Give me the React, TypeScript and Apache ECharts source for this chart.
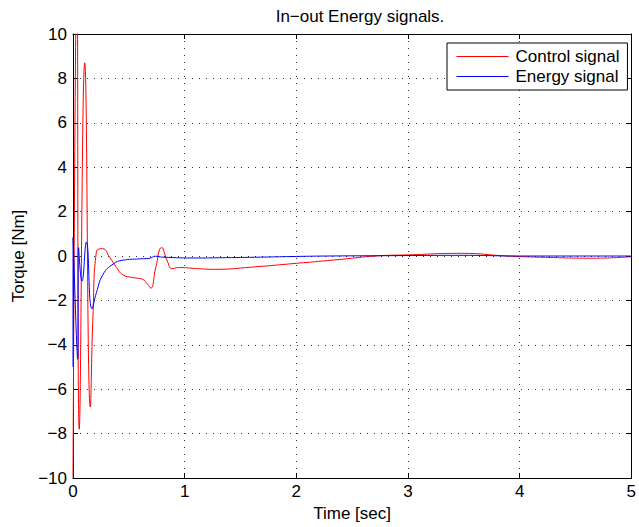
import React, { useEffect, useRef } from "react";
import * as echarts from "echarts";

const controlTime = [0, 0.035, 0.056, 0.105, 0.155, 0.18, 0.21, 0.265, 0.33, 0.39, 0.447, 0.535, 0.623, 0.667, 0.697, 0.741, 0.794, 0.844, 0.888, 0.947, 1.117, 1.27, 1.6, 2.0, 2.4, 2.71, 3.0, 3.48, 3.89, 4.3, 4.66, 5.0];
const controlValue = [-10, 13, -7.8, 8.7, -6.8, -2.5, 0.2, 0.33, -0.07, -0.52, -0.85, -0.97, -1.05, -1.27, -1.45, -0.52, 0.38, -0.22, -0.57, -0.52, -0.57, -0.6, -0.5, -0.33, -0.15, 0.0, 0.05, 0.12, 0.0, -0.07, -0.1, -0.03];

const energyTime = [0, 0.001, 0.042, 0.05, 0.081, 0.12, 0.17, 0.21, 0.27, 0.358, 0.447, 0.594, 0.68, 0.74, 0.8, 1.12, 1.3, 1.7, 2.0, 2.3, 3.0, 3.5, 4.0, 5.0];
const energyValue = [-5, 0.83, -4.65, 0.38, -1.13, 0.63, -2.38, -1.65, -0.82, -0.37, -0.19, -0.13, -0.11, -0.01, -0.05, -0.09, -0.08, -0.05, -0.02, 0.0, 0.02, 0.03, 0.0, 0.0];

const xTicks = [0, 1, 2, 3, 4, 5];
const yTicks = [-10, -8, -6, -4, -2, 0, 2, 4, 6, 8, 10];

const seriesNames = ["Control signal", "Energy signal"];
const seriesColors = ["#ff0000", "#0000ff"];
const titleText = "In\u2212out Energy signals.";
const xName = "Time [sec]";
const yName = "Torque [Nm]";

const FONT = "Liberation Sans, Arial, Helvetica, sans-serif";

export default function App() {
  const ref = useRef<HTMLDivElement>(null);
  useEffect(() => {
    if (!ref.current) return;
    const chart = echarts.init(ref.current, undefined, { renderer: "svg" });
    const zip = (t: number[], v: number[]) => t.map((x, i) => [x, v[i]]);
    const fmt = (v: number) => String(v).replace("-", "\u2212");
    const gridLine = { show: true, lineStyle: { color: "#333", width: 1, type: [1, 6] as any } };
    const axisLine = { show: true, onZero: false, lineStyle: { color: "#000", width: 1 } };
    const tickIn = { show: true, inside: true, length: 5, lineStyle: { color: "#000" } };
    chart.setOption({
      animation: false,
      backgroundColor: "#fff",
      title: {
        text: titleText,
        left: 355,
        textAlign: "center",
        top: 3,
        textStyle: { fontFamily: FONT, fontSize: 17, fontWeight: "normal", color: "#000" },
      },
      legend: {
        orient: "vertical",
        left: 447,
        top: 43,
        width: 178,
        backgroundColor: "#fff",
        borderColor: "#000",
        borderWidth: 1,
        padding: [5, 8, 5, 9],
        itemWidth: 52,
        itemHeight: 14,
        itemGap: 3,
        itemStyle: { opacity: 0 },
        lineStyle: { opacity: 1, width: 1 },
        textStyle: { fontFamily: FONT, fontSize: 17, color: "#000", padding: [0, 0, 0, 2] },
        data: seriesNames,
      },
      grid: { left: 73, right: 2, top: 34, bottom: 48, containLabel: false },
      xAxis: [
        {
          type: "value",
          min: 0,
          max: 5,
          interval: 1,
          position: "bottom",
          name: xName,
          nameLocation: "middle",
          nameGap: 27,
          nameTextStyle: { fontFamily: FONT, fontSize: 17, color: "#000" },
          axisLine,
          axisTick: tickIn,
          axisLabel: { fontFamily: FONT, fontSize: 17, color: "#000", margin: 5, formatter: (v: number) => (xTicks.includes(v) ? fmt(v) : "") },
          splitLine: gridLine,
        },
        {
          type: "value",
          min: 0,
          max: 5,
          interval: 1,
          position: "top",
          axisLine,
          axisTick: tickIn,
          axisLabel: { show: false },
          splitLine: { show: false },
        },
      ],
      yAxis: [
        {
          type: "value",
          min: -10,
          max: 10,
          interval: 2,
          position: "left",
          name: yName,
          nameLocation: "middle",
          nameGap: 43,
          nameTextStyle: { fontFamily: FONT, fontSize: 17, color: "#000" },
          axisLine,
          axisTick: tickIn,
          axisLabel: { fontFamily: FONT, fontSize: 17, color: "#000", margin: 6, formatter: (v: number) => (yTicks.includes(v) ? fmt(v) : "") },
          splitLine: gridLine,
        },
        {
          type: "value",
          min: -10,
          max: 10,
          interval: 2,
          position: "right",
          axisLine,
          axisTick: tickIn,
          axisLabel: { show: false },
          splitLine: { show: false },
        },
      ],
      series: [
        {
          name: seriesNames[0],
          type: "line",
          data: zip(controlTime, controlValue),
          showSymbol: false,
          smooth: 0.5,
          clip: true,
          color: seriesColors[0],
          lineStyle: { color: seriesColors[0], width: 1 },
          itemStyle: { color: seriesColors[0] },
        },
        {
          name: seriesNames[1],
          type: "line",
          data: zip(energyTime, energyValue),
          showSymbol: false,
          smooth: 0.5,
          clip: true,
          color: seriesColors[1],
          lineStyle: { color: seriesColors[1], width: 1 },
          itemStyle: { color: seriesColors[1] },
        },
      ],
    });
    return () => chart.dispose();
  }, []);
  return <div ref={ref} style={{ width: 639, height: 527, position: "absolute", left: 0, top: 0 }} />;
}
